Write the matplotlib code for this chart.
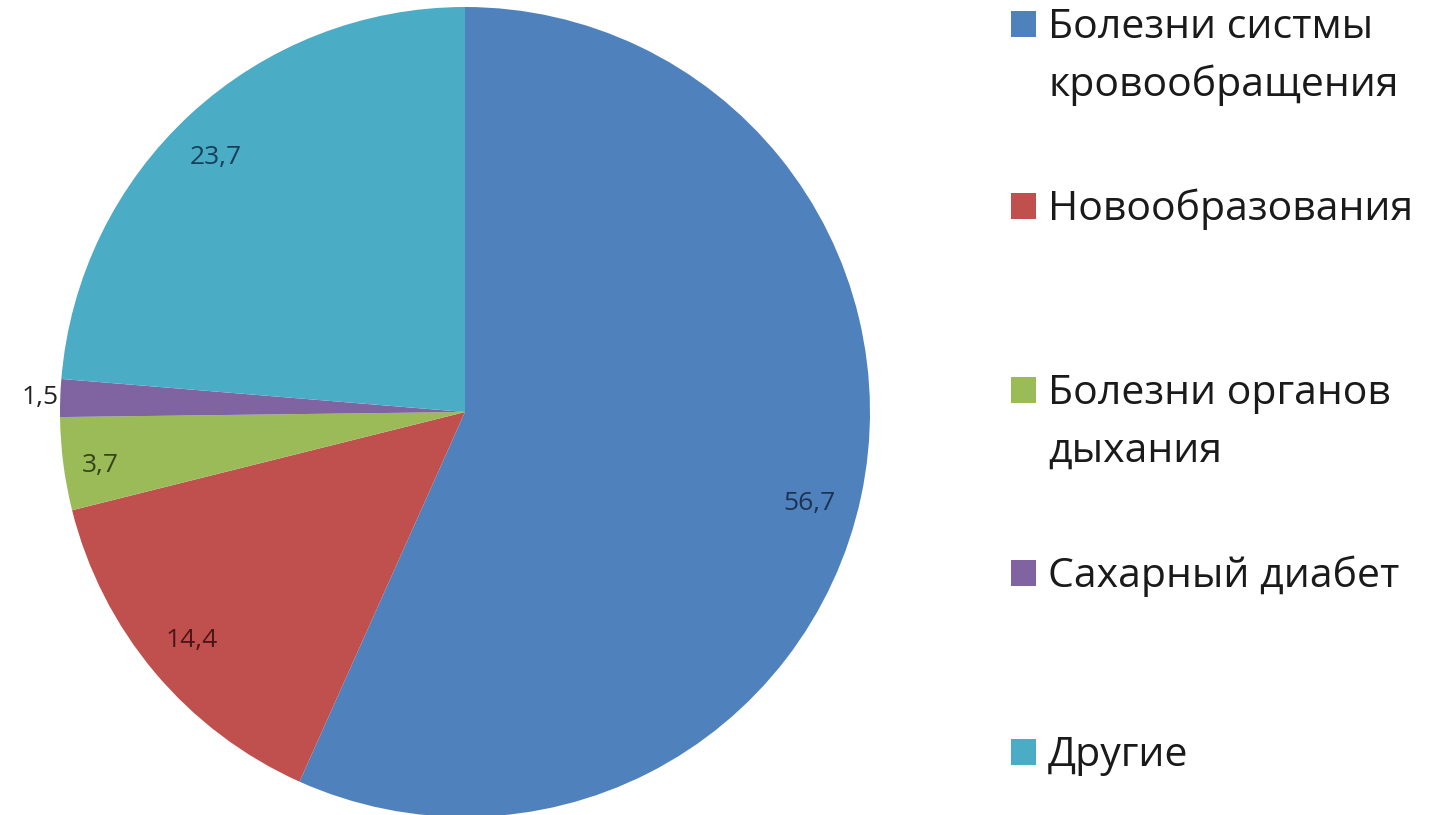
import numpy as np
import matplotlib
matplotlib.use("Agg")
import matplotlib.pyplot as plt
from matplotlib.patches import Rectangle

categories = ["Болезни систмы\nкровообращения", "Новообразования",
              "Болезни органов\nдыхания", "Сахарный диабет", "Другие"]
values = [56.7, 14.4, 3.7, 1.5, 23.7]
value_labels = ["56,7", "14,4", "3,7", "1,5", "23,7"]

colors = ["#4F81BD", "#C0504D", "#9BBB59", "#8064A2", "#4BACC6"]
label_colors = ["#1d3352", "#4a1616", "#34451c", "#222222", "#173f57"]
label_radius = [0.88, 0.88, 0.91, 1.05, 0.88]
label_shift = [-2.8, 0.0, 1.0, 0.0, 1.8]   # degrees, nudges like excel's best fit

plt.rcParams["font.family"] = ["Open Sans", "DejaVu Sans"]

W, H = 1434, 815
fig = plt.figure(figsize=(W / 100, H / 100), dpi=100)
fig.patch.set_facecolor("white")

cx, cy, R = 465, 412, 405
ax = fig.add_axes([(cx - R) / W, (H - cy - R) / H, 2 * R / W, 2 * R / H])
wedges, _ = ax.pie(values, colors=colors, startangle=90, counterclock=False,
                   radius=1, wedgeprops=dict(linewidth=0))
ax.set_xlim(-1, 1)
ax.set_ylim(-1, 1)
ax.set_aspect("equal")
ax.axis("off")

for w, txt, r, d, c in zip(wedges, value_labels, label_radius, label_shift, label_colors):
    ang = np.deg2rad((w.theta1 + w.theta2) / 2 + d)
    ax.text(r * np.cos(ang), r * np.sin(ang), txt, ha="center", va="center",
            fontsize=19, color=c)

# legend by hand, keeps the uneven gaps of the original
baselines = [38, 220, 404, 587, 766]
line_gap = 58
for lab, col, y in zip(categories, colors, baselines):
    fig.patches.append(Rectangle((1011 / W, 1 - (y - 1) / H), 25 / W, 26 / H,
                                 transform=fig.transFigure, facecolor=col,
                                 edgecolor="none"))
    for i, line in enumerate(lab.split("\n")):
        fig.text(1048 / W, 1 - (y + i * line_gap) / H, line, ha="left",
                 va="baseline", fontsize=29.5, color="#1a1a1a")

fig.savefig("out.png", dpi=100)
